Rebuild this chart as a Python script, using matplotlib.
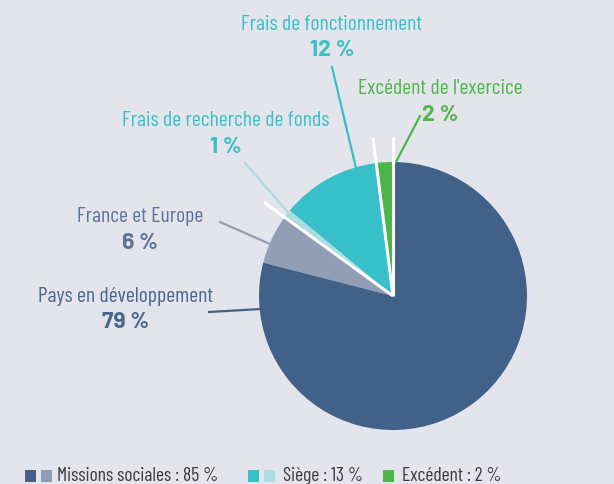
import numpy as np
import matplotlib.pyplot as plt
from matplotlib.patches import Rectangle

# slices, counterclockwise from the top
labels = ["Excédent de l'exercice", "Frais de fonctionnement",
          "Frais de recherche de fonds", "France et Europe",
          "Pays en développement"]
values = [2, 12, 1, 6, 79]
colors = ['#4cb748', '#37c0c7', '#a9dde2', '#929db6', '#426189']
text_colors = ['#4cb748', '#37c0c7', '#37c0c7', '#5b7498', '#4a6790']

# legend groups
legend_labels = ["Missions sociales : 85 %", "Siège : 13 %", "Excédent : 2 %"]
legend_colors = [['#426189', '#929db6'], ['#37c0c7', '#a9dde2'], ['#4cb748']]

BG = '#e4e4ec'
W, H = 614, 485
NARROW = ['Barlow Condensed', 'DejaVu Sans']
BOLD = ['Barlow', 'DejaVu Sans']

fig = plt.figure(figsize=(W / 100, H / 100), dpi=100, facecolor=BG)
ax = fig.add_axes([0, 0, 1, 1])

cx, cy, r = 393, H - 297, 134
ax.pie(values, colors=colors, startangle=90, counterclock=True,
       center=(cx, cy), radius=r, frame=True,
       wedgeprops=dict(linewidth=0))
ax.set_xlim(0, W)
ax.set_ylim(0, H)
ax.set_aspect('equal')
ax.axis('off')

# white separators between the groups
cum = np.cumsum([0] + values)
for frac in (cum[0], cum[1], cum[3]):
    a = np.deg2rad(90 + 360 * frac / 100)
    ax.plot([cx, cx + 1.19 * r * np.cos(a)], [cy, cy + 1.19 * r * np.sin(a)],
            color='white', lw=2.2, solid_capstyle='butt', zorder=5)

# labels: (text x, name y, value y, leader start, leader end) in pixels
label_pos = [
    (440, 89, 115, (420, 117), (396, 163)),
    (332, 24, 50, (332, 68), (356, 169)),
    (226, 121, 147, (245, 164), (292, 218)),
    (140, 217, 243, (220, 223), (270, 245)),
    (126, 296, 322, (209, 313), (261, 310)),
]
line_colors = ['#4cb748', '#37c0c7', '#a9dde2', '#929db6', '#426189']
for lab, v, tc, lc, (tx, ny, vy, p0, p1) in zip(labels, values, text_colors,
                                               line_colors, label_pos):
    ax.text(tx, H - ny, lab, color=tc, fontsize=15.6, family=NARROW,
            ha='center', va='center')
    ax.text(tx, H - vy, f"{v} %", color=tc, fontsize=16.5, family=BOLD,
            fontweight='bold', ha='center', va='center')
    ax.plot([p0[0], p1[0]], [H - p0[1], H - p1[1]], color=lc, lw=1.6,
            zorder=4)

# legend along the bottom
lx = [25, 248, 383]
tx = [57, 283, 402]
for x0, t0, lab, cols in zip(lx, tx, legend_labels, legend_colors):
    for i, c in enumerate(cols):
        ax.add_patch(Rectangle((x0 + i * 16, H - 483), 11, 12, color=c,
                               lw=0))
    ax.text(t0, H - 476, lab, color='#3a3a3a', fontsize=14, family=NARROW,
            ha='left', va='center')

fig.savefig('out.png', dpi=100, facecolor=BG)
